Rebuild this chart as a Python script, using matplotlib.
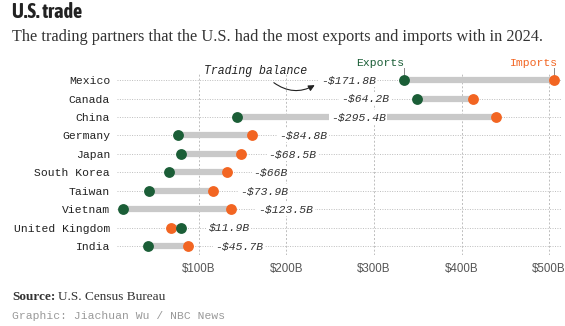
import matplotlib
matplotlib.use('Agg')
import matplotlib.pyplot as plt
from matplotlib import font_manager

# 2024 goods trade, billions of dollars
countries = ['Mexico', 'Canada', 'China', 'Germany', 'Japan', 'South Korea',
             'Taiwan', 'Vietnam', 'United Kingdom', 'India']
exports = [334.0, 349.4, 143.5, 75.6, 79.7, 65.5, 42.3, 13.1, 79.9, 41.8]
imports = [505.8, 413.6, 438.9, 160.4, 148.2, 131.5, 116.2, 136.6, 68.0, 87.5]
balance_labels = ['-$171.8B', '-$64.2B', '-$295.4B', '-$84.8B', '-$68.5B',
                  '-$66B', '-$73.9B', '-$123.5B', '$11.9B', '-$45.7B']
ticks = [100, 200, 300, 400, 500]
tick_labels = ['$100B', '$200B', '$300B', '$400B', '$500B']

green = '#1b5e37'
orange = '#f26522'
bar_gray = '#c9c9c9'
grid_gray = '#bdbdbd'

# look for a condensed bold face for the title, else fall back
title_font, title_size = 'Liberation Sans', 12.5
for f in font_manager.fontManager.ttflist:
    if ('Condensed' in f.name or 'Narrow' in f.name) and f.weight in (700, 'bold'):
        title_font, title_size = f.name, 14.5
        break
serif = 'Liberation Serif'
mono = 'Liberation Mono'

fig = plt.figure(figsize=(5.65, 3.26), dpi=100)
W, H = 565, 326
ax = fig.add_axes([117 / W, 1 - 255 / H, (561 - 117) / W, (255 - 74) / H])

ax.set_xlim(6.3, 513.7)
ax.set_ylim(9.49, -0.33)

for s in ax.spines.values():
    s.set_visible(False)

# vertical grid
for t in ticks:
    ax.axvline(t, color=grid_gray, lw=0.7, ls=(0, (2, 2)), zorder=0)
ax.set_xticks(ticks)
ax.set_xticklabels(tick_labels, family='Liberation Sans', fontsize=8.3, color='#555555')
ax.tick_params(axis='x', length=0, pad=6)
ax.set_yticks(range(len(countries)))
ax.set_yticklabels(countries, family=mono, fontsize=8.2, color='#222222')
ax.tick_params(axis='y', length=0, pad=5)

for i, c in enumerate(countries):
    ax.axhline(i, color=grid_gray, lw=0.7, ls=(0, (1, 1.5)), zorder=0)
    lo, hi = min(exports[i], imports[i]), max(exports[i], imports[i])
    ax.plot([lo, hi], [i, i], color=bar_gray, lw=4.5, solid_capstyle='butt', zorder=1)
    ax.plot(imports[i], i, 'o', color=orange, ms=7.8, mec='none', zorder=3)
    ax.plot(exports[i], i, 'o', color=green, ms=7.8, mec='none', zorder=3)

    if c in ('Mexico', 'Canada'):
        x, ha = lo - 32, 'right'
    elif c == 'China':
        x, ha = 282, 'center'
    else:
        x, ha = hi + 31, 'left'
    ax.text(x, i, balance_labels[i], family=mono, style='italic', fontsize=8.2,
            color='#333333', ha=ha, va='center', zorder=4,
            bbox=dict(boxstyle='square,pad=0.15', fc='white', ec='none'))

# legend labels on the first row
ax.text(exports[0] + 1, -0.95, 'Exports', family=mono, fontsize=8.2, color=green,
        ha='right', va='center', clip_on=False)
ax.plot([exports[0], exports[0]], [-0.65, -0.25], color='#888888', lw=0.7, clip_on=False)
ax.text(imports[0] + 4, -0.95, 'Imports', family=mono, fontsize=8.2, color=orange,
        ha='right', va='center', clip_on=False)
ax.plot([imports[0], imports[0]], [-0.65, -0.25], color='#888888', lw=0.7, clip_on=False)

# trading balance note
ax.text(106, -0.5, 'Trading balance', family=mono, style='italic', fontsize=8.3,
        color='#222222', ha='left', va='center')
ax.annotate('', xy=(235, 0.2), xytext=(183, 0.05),
            arrowprops=dict(arrowstyle='-|>', color='#222222', lw=0.8,
                            connectionstyle='arc3,rad=0.35', mutation_scale=9))

fig.text(12 / W, 1 - 12 / H, 'U.S. trade', family=title_font, fontweight='bold',
         fontsize=title_size, color='#222222', va='center')
fig.text(12 / W, 1 - 37 / H, 'The trading partners that the U.S. had the most exports and imports with in 2024.',
         family=serif, fontsize=11.7, color='#333333', va='center')
fig.text(12 / W, 1 - 297 / H, 'Source:', family=serif, fontweight='bold',
         fontsize=9.5, color='#333333', va='center')
fig.text(58 / W, 1 - 297 / H, 'U.S. Census Bureau', family=serif,
         fontsize=9.5, color='#333333', va='center')
fig.text(12 / W, 1 - 316 / H, 'Graphic: Jiachuan Wu / NBC News', family=mono,
         fontsize=8.2, color='#999999', va='center')

fig.savefig('out.png', dpi=100)
